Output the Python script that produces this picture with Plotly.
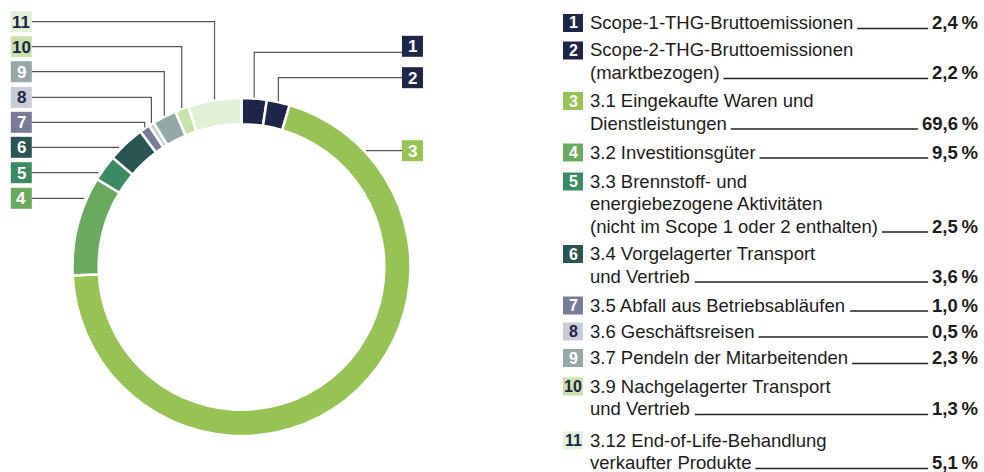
import math
import plotly.graph_objects as go

# ---------------- data ----------------
numbers = ["1", "2", "3", "4", "5", "6", "7", "8", "9", "10", "11"]
values = [2.4, 2.2, 69.6, 9.5, 2.5, 3.6, 1.0, 0.5, 2.3, 1.3, 5.1]
pct_labels = ["2,4\u2009%", "2,2\u2009%", "69,6\u2009%", "9,5\u2009%", "2,5\u2009%", "3,6\u2009%",
              "1,0\u2009%", "0,5\u2009%", "2,3\u2009%", "1,3\u2009%", "5,1\u2009%"]
legend_lines = [
    ["Scope-1-THG-Bruttoemissionen"],
    ["Scope-2-THG-Bruttoemissionen", "(marktbezogen)"],
    ["3.1 Eingekaufte Waren und", "Dienstleistungen"],
    ["3.2 Investitionsgüter"],
    ["3.3 Brennstoff- und", "energiebezogene Aktivitäten", "(nicht im Scope 1 oder 2 enthalten)"],
    ["3.4 Vorgelagerter Transport", "und Vertrieb"],
    ["3.5 Abfall aus Betriebsabläufen"],
    ["3.6 Geschäftsreisen"],
    ["3.7 Pendeln der Mitarbeitenden"],
    ["3.9 Nachgelagerter Transport", "und Vertrieb"],
    ["3.12 End-of-Life-Behandlung", "verkaufter Produkte"],
]

# ---------------- style ----------------
colors = ["#1e2548", "#1e2548", "#97c355", "#6aaa5f", "#3b8a61", "#2b5552",
          "#797c96", "#c9cbd6", "#94a8a6", "#c9e2aa", "#e3f0d8"]
num_colors = ["#ffffff", "#ffffff", "#ffffff", "#ffffff", "#ffffff", "#ffffff",
              "#ffffff", "#1e2548", "#ffffff", "#1e2548", "#1e2548"]

W, H = 984, 472
FONT = "Liberation Sans, Arial, sans-serif"
TXT = "#1d1d1b"
LINE = "#555555"

# donut geometry (pixels)
CX, CY, R = 241.5, 267.0, 169.0
HOLE = 0.845

# donut label boxes (pixel centers) and connector style
lab_x = [412.5, 412.5, 412.5, 21.3, 21.3, 21.3, 21.3, 21.3, 21.3, 21.3, 21.3]
lab_y = [46.3, 77.7, 150.7, 198.3, 172.7, 147.3, 122.3, 97.3, 71.7, 46.7, 21.7]
lead_dy = [6, 0, 0, 0, 0, 0, 0, 0, 0, 0, 0]
lead_kind = ["v", "v", "h", "h", "h", "h", "v", "v", "v", "v", "v"]
BOX = 21

# legend layout
LEG_BOX_X = 573.0
LEG_TXT_X = 588.0
LEG_PCT_X = 980.0
first_y = [22.5, 50, 100.5, 152, 181, 253.5, 305, 331, 357.5, 386, 440]
LSTEP = 22.5
FS = 18.5

def px(x):
    return x / W

def py(y):
    return 1 - y / H

# Arial / Liberation Sans advance widths (per 1000 em)
WID = {' ': 278, 'a': 556, 'b': 556, 'c': 500, 'd': 556, 'e': 556, 'f': 278, 'g': 556, 'h': 556,
       'i': 222, 'j': 222, 'k': 500, 'l': 222, 'm': 833, 'n': 556, 'o': 556, 'p': 556, 'q': 556,
       'r': 333, 's': 500, 't': 278, 'u': 556, 'v': 500, 'w': 722, 'x': 500, 'y': 500, 'z': 500,
       'ä': 556, 'ö': 556, 'ü': 556, 'A': 667, 'B': 667, 'D': 722, 'E': 667, 'G': 778, 'H': 722,
       'I': 278, 'L': 556, 'M': 833, 'N': 722, 'P': 667, 'S': 667, 'T': 611, 'V': 667, 'W': 944,
       '-': 333, '.': 278, '(': 333, ')': 333, ',': 278, '%': 889, '\u2009': 200}

def tw(s, size):
    return sum(WID.get(c, 556) for c in s) * size / 1000.0

fig = go.Figure()
fig.add_trace(go.Pie(
    values=values, labels=[f"{n} " + " ".join(t) for n, t in zip(numbers, legend_lines)],
    sort=False, direction="clockwise", rotation=0, hole=HOLE,
    marker=dict(colors=colors, line=dict(color="white", width=2.5)),
    textinfo="none", hoverinfo="label+value", showlegend=False,
    domain=dict(x=[px(CX - R), px(CX + R)], y=[py(CY + R), py(CY - R)]),
))

shapes = []
annotations = []

# donut labels + leader lines
total = sum(values)
cum = 0.0
for i, v in enumerate(values):
    mid = (cum + v / 2) / total * 2 * math.pi
    cum += v
    mx = CX + R * math.sin(mid)
    my = CY - R * math.cos(mid)
    bx, by = lab_x[i], lab_y[i]
    right = bx > CX
    edge = bx - BOX / 2 if right else bx + BOX / 2
    ly = by + lead_dy[i]
    if lead_kind[i] == "v":
        pts = [(edge, ly), (mx, ly), (mx, my - 1)]
    else:
        dy = CY - ly
        dx = math.sqrt(max(R * R - dy * dy, 0))
        rx = CX + dx + 2 if right else CX - dx - 3
        pts = [(edge, ly), (rx, ly)]
    path = "M " + " L ".join(f"{px(a)},{py(b)}" for a, b in pts)
    shapes.append(dict(type="path", xref="paper", yref="paper", path=path,
                       line=dict(color=LINE, width=1.2)))
    shapes.append(dict(type="rect", xref="paper", yref="paper",
                       x0=px(bx - BOX / 2), x1=px(bx + BOX / 2),
                       y0=py(by + BOX / 2), y1=py(by - BOX / 2),
                       fillcolor=colors[i], line=dict(width=0)))
    annotations.append(dict(xref="paper", yref="paper", x=px(bx), y=py(by + 0.5),
                            text=f"<b>{numbers[i]}</b>", showarrow=False,
                            xanchor="center", yanchor="middle",
                            font=dict(family=FONT, size=17, color=num_colors[i])))

# legend
for i, lines in enumerate(legend_lines):
    y0 = first_y[i]
    shapes.append(dict(type="rect", xref="paper", yref="paper",
                       x0=px(LEG_BOX_X - 10), x1=px(LEG_BOX_X + 10),
                       y0=py(y0 + 9.5), y1=py(y0 - 8.5),
                       fillcolor=colors[i], line=dict(width=0)))
    annotations.append(dict(xref="paper", yref="paper", x=px(LEG_BOX_X), y=py(y0 + 0.5),
                            text=f"<b>{numbers[i]}</b>", showarrow=False,
                            xanchor="center", yanchor="middle",
                            font=dict(family=FONT, size=16, color=num_colors[i])))
    for k, line in enumerate(lines):
        ly = y0 + k * LSTEP
        annotations.append(dict(xref="paper", yref="paper", x=px(LEG_TXT_X), y=py(ly),
                                text=line, showarrow=False, xanchor="left", yanchor="middle",
                                font=dict(family=FONT, size=FS, color=TXT)))
    last_y = y0 + (len(lines) - 1) * LSTEP
    annotations.append(dict(xref="paper", yref="paper", x=px(LEG_PCT_X), y=py(last_y),
                            text=f"<b>{pct_labels[i]}</b>", showarrow=False,
                            xanchor="right", yanchor="middle",
                            font=dict(family=FONT, size=FS, color=TXT)))
    ux0 = LEG_TXT_X + tw(lines[-1], FS) + 6
    ux1 = LEG_PCT_X - tw(pct_labels[i], FS) - 6
    uy = last_y + 6
    shapes.append(dict(type="line", xref="paper", yref="paper",
                       x0=px(ux0), x1=px(ux1), y0=py(uy), y1=py(uy),
                       line=dict(color="#222222", width=1.5)))

fig.update_layout(
    width=W, height=H, margin=dict(l=0, r=0, t=0, b=0),
    paper_bgcolor="white", plot_bgcolor="white",
    shapes=shapes, annotations=annotations,
)
fig.write_html("out.html", config={"displayModeBar": False},
               post_script="document.body.style.margin='0';document.body.style.overflow='hidden';")
